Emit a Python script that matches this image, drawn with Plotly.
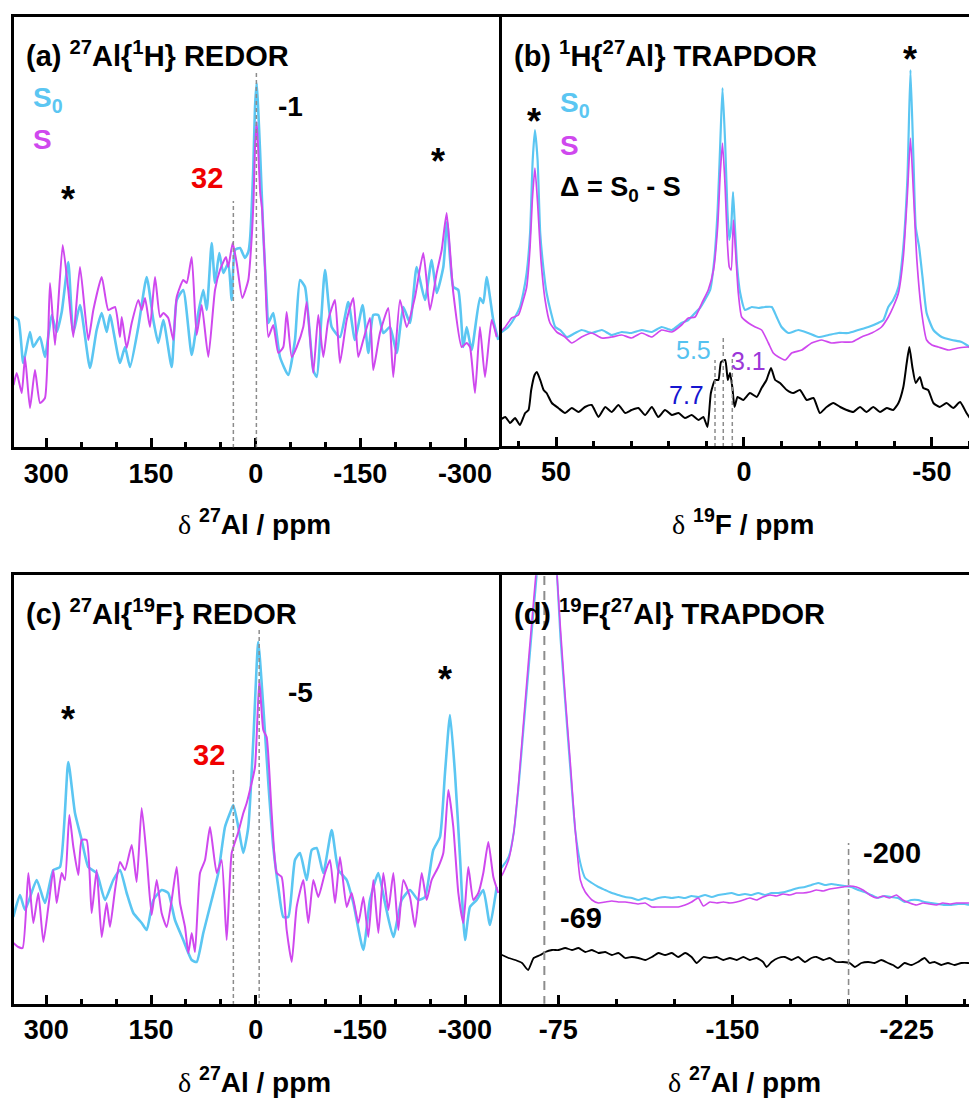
import plotly.graph_objects as go

OFF = 8            # default page body margin of the html page
W, H = 977 - OFF, 1100 - OFF
CYAN = "#5BC6F2"
MAG = "#CF48EE"
FONT = "Liberation Sans, Arial, sans-serif"

# ---------------- panel (a) 27Al{1H} REDOR ----------------
a_s0_ppm = [347, 340, 333.1, 323.5, 318.7, 309.1, 302, 292.4, 285.2, 278, 268.6, 261.4, 251.8, 237.5, 227.9,
            220.7, 213.5, 208.8, 194.5, 187.3, 180.1, 168.2, 156.2, 146.7, 139.6, 132.4, 120.4, 113.2, 103.8,
            91.7, 82.3, 75.1, 70.2, 63.1, 58.3, 52.2, 46.4, 39.3, 34.4, 29.7, 22.5, 15.3, 10.6, 8.2, 3.4, 1.0,
            -1.4, -3.5, -6.2, -10.9, -15.8, -18.1, -25.2, -34.8, -46.7, -56.3, -63.5, -70.7, -82.5, -87.4,
            -99.3, -108.9, -120.8, -132.7, -142.3, -153.3, -161.4, -168.5, -175.7, -182.9, -192.5, -202.1,
            -211.5, -221.1, -230.7, -242.6, -252.2, -259.4, -268.9, -274.2, -283.2, -290.3, -297.5, -302.4,
            -309.5, -321.4, -326.2, -331, -340.5, -347.7]
a_s0 = [131, 128, 85, 116, 101, 111, 91, 133, 116, 136, 186, 115, 143, 80, 118, 135, 116, 133, 85, 101, 81,
        121, 171, 128, 105, 128, 81, 148, 158, 93, 135, 158, 138, 205, 165, 195, 175, 185, 148, 198, 200, 190,
        196, 208, 281, 340, 365, 340, 298, 215, 148, 125, 135, 91, 73, 108, 168, 161, 78, 71, 178, 121, 111,
        146, 108, 143, 95, 133, 133, 115, 121, 95, 141, 125, 181, 148, 188, 155, 181, 226, 161, 158, 101, 121,
        98, 150, 145, 171, 128, 108]
a_s_ppm = [347, 342.5, 335.3, 330.6, 323.5, 316.3, 309.1, 302, 294.8, 287.6, 276.6, 268.6, 261.4, 251.8, 239.9,
           232.7, 220.7, 211.2, 201.6, 194.5, 192, 184.9, 177.7, 168.2, 163.4, 158.6, 151.5, 144.3, 137.1, 132.4,
           125.3, 118.1, 113.2, 103.8, 98.9, 91.7, 84.6, 77.4, 67.9, 58.3, 51.2, 42.6, 39.3, 33, 27.2, 19.2,
           10.6, 5.3, 3.0, 1.0, -1.4, -3.5, -6.5, -9.0, -13.3, -18.1, -25.2, -32.4, -39.6, -44.4, -51.6, -58.8,
           -68.2, -73.1, -82.5, -89.7, -96.9, -104, -113.6, -120.8, -130.4, -139.9, -147, -154.2, -163.8,
           -168.5, -178.1, -190, -197.2, -206.8, -216.4, -228.3, -240.2, -249.8, -259.4, -266.6, -273.7,
           -283.2, -295.2, -302.4, -307.1, -314.3, -321.4, -328.6, -338.2, -345.4]
a_s = [63, 75, 55, 91, 40, 78, 45, 50, 165, 103, 203, 158, 111, 181, 108, 138, 171, 138, 141, 111, 131, 100,
       125, 148, 138, 150, 121, 171, 131, 135, 130, 108, 151, 168, 165, 191, 113, 143, 91, 158, 178, 191, 181,
       205, 185, 150, 168, 215, 250, 300, 326, 300, 255, 240, 181, 111, 123, 95, 101, 136, 91, 101, 121, 146,
       75, 133, 91, 128, 148, 85, 128, 150, 91, 108, 130, 78, 115, 140, 71, 148, 121, 151, 195, 138, 175, 198,
       235, 155, 101, 105, 101, 55, 121, 71, 128, 111]

# ---------------- panel (b) 1H{27Al} TRAPDOR ----------------
b_s0_ppm = [66.2, 62.7, 60.9, 59.6, 58.7, 57.8, 56.9, 56.2, 55.6, 54.9, 54.2, 53.3, 52.5, 51.3, 50.2, 48.9,
            47.1, 44.9, 43.2, 40.5, 37.8, 35.2, 32.5, 29.9, 27.2, 24.5, 21.9, 19.2, 16.6, 14.8, 13, 11.7, 10.4,
            9, 7.9, 7, 6.3, 5.7, 5, 4.4, 3.9, 3.4, 2.9, 2.4, 1.8, 1, -0.3, -2.1, -3.8, -5.6, -7.4, -8.7, -10.0,
            -11.8, -14.5, -17.1, -19.8, -22.5, -25.1, -27.8, -30.4, -33.1, -35.7, -37.1, -38.4, -39.7, -41.1,
            -42.4, -43.5, -44.3, -45.1, -45.7, -46.6, -47.5, -48.6, -50.4, -52.6, -55.3, -57.9, -60.1, -61.5]
b_s0 = [110, 120, 130, 140, 154, 174, 214, 287, 317, 287, 214, 177, 154, 134, 120, 117, 110, 114, 117, 114,
        117, 112, 115, 114, 117, 115, 120, 117, 124, 127, 134, 139, 147, 157, 187, 237, 304, 359, 304, 237,
        207, 220, 255, 220, 180, 154, 137, 140, 139, 140, 140, 130, 120, 114, 117, 114, 110, 112, 114, 114,
        117, 120, 124, 127, 140, 147, 160, 200, 270, 377, 287, 220, 200, 170, 134, 117, 110, 107, 105, 100, 97]
b_s_ppm = [66.2, 63.5, 61.8, 60, 58.7, 57.8, 56.9, 56.3, 55.6, 54.9, 54, 52.9, 51.6, 49.8, 47.6, 45.8, 43.2,
           40.5, 37.8, 35.2, 32.5, 29.9, 27.2, 24.5, 21.9, 19.2, 16.6, 14.8, 13, 11.2, 9.5, 8.1, 7, 6.3, 5.7,
           5, 4.4, 3.9, 3.4, 2.8, 2.2, 1.5, 0.6, -1.2, -3, -4.7, -6.5, -7.8, -9.2, -11, -12.7, -15.4, -18,
           -20.7, -23.3, -26, -28.7, -31.3, -34, -36.6, -38.4, -39.7, -41.1, -42.4, -43.5, -44.3, -45.1, -46,
           -47.3, -48.6, -50, -51.7, -54.4, -57, -59.7, -61.5]
b_s = [110, 120, 129, 132, 147, 160, 200, 247, 279, 244, 187, 147, 124, 115, 110, 104, 110, 114, 109, 110,
       112, 109, 114, 110, 117, 115, 122, 129, 130, 144, 157, 177, 220, 274, 304, 260, 204, 180, 177, 227, 194,
       154, 130, 124, 120, 117, 104, 94, 90, 87, 94, 97, 104, 107, 104, 105, 105, 110, 114, 120, 130, 140, 154,
       190, 254, 309, 254, 187, 134, 107, 102, 100, 97, 99, 100, 99]
b_d_ppm = [64.9, 63.5, 62.2, 60.9, 59.6, 58.2, 57.3, 56.6, 55.7, 55.1, 54.2, 53.3, 52.5, 51.1, 49.4, 47.6,
           45.8, 44, 42.3, 40.5, 38.7, 36.9, 35.2, 33.4, 31.6, 29.9, 28.1, 26.3, 24.5, 22.8, 21, 19.2, 17.4,
           15.7, 13.9, 12.1, 10.8, 9.7, 8.8, 7.7, 6.8, 6.1, 5, 4.3, 3.7, 3.1, 2.5, 1.7, 0.2, -1.6, -3.4, -4.7,
           -6, -7.2, -8.3, -9.6, -11.4, -13.1, -14.9, -16.7, -18.5, -20.2, -22, -23.8, -25.6, -27.3, -29.1,
           -30.9, -32.6, -34.4, -36.2, -38, -39.7, -41.1, -42.4, -43.3, -44, -44.8, -45.7, -46.8, -47.7, -49,
           -50.4, -52.1, -53.9, -55.7, -57.5, -59.2, -60.6, -61.9]
b_d = [27, 30, 24, 29, 22, 34, 37, 57, 72, 75, 67, 57, 54, 44, 39, 34, 39, 35, 40, 42, 30, 40, 35, 42, 34,
       37, 39, 32, 40, 30, 37, 32, 34, 29, 32, 27, 30, 20, 54, 67, 67, 85, 87, 67, 74, 60, 40, 50, 47, 54, 50,
       59, 67, 79, 67, 64, 57, 54, 57, 47, 49, 34, 40, 44, 40, 37, 35, 40, 35, 40, 35, 39, 37, 44, 60, 84, 100,
       80, 64, 70, 59, 57, 44, 40, 44, 39, 45, 34, 27, 34]

# ---------------- panel (c) 27Al{19F} REDOR ----------------
c_s0_ppm = [347.4, 337.8, 330.6, 313.9, 302, 290.1, 280.5, 268.6, 259, 249.4, 239.9, 227.9, 216, 204.1, 194.5,
            184.9, 175.4, 163.4, 156.2, 146.7, 134.7, 125.3, 115.7, 103.8, 91.7, 84.6, 75.1, 63.1, 53.6, 44,
            36.8, 32.1, 24.9, 17.8, 10.6, 3.4, -3.7, -10.9, -18.1, -25.2, -32.4, -39.6, -46.7, -56.3, -63.5,
            -73.1, -80.3, -87.4, -96.9, -108.9, -118.4, -130.4, -139.9, -154.2, -163.8, -175.7, -185.3, -197.2,
            -209.2, -221.1, -233, -242.6, -254.5, -264.1, -271.3, -278.5, -285.6, -292.8, -300, -307.1, -316.7,
            -326.2, -335.8, -345.4]
c_s0 = [88, 110, 95, 125, 102, 135, 138, 243, 192, 165, 138, 132, 105, 125, 135, 112, 92, 82, 75, 105, 115,
        112, 85, 65, 45, 43, 72, 105, 132, 178, 192, 200, 178, 152, 178, 265, 363, 298, 222, 158, 118, 88, 88,
        145, 152, 125, 155, 157, 132, 175, 135, 125, 102, 55, 105, 132, 102, 68, 105, 115, 105, 108, 155, 168,
        232, 290, 232, 148, 65, 98, 105, 115, 80, 118]
c_s_ppm = [347.3, 340.2, 334, 325.8, 318.7, 311.5, 304.3, 297.2, 290, 285.2, 278.1, 273.3, 267.1, 261.3, 254.2,
           249.4, 242.2, 235.1, 227.9, 220.7, 213.6, 208.8, 201.6, 194.5, 187.3, 177.7, 170.6, 163.4, 156.2,
           149.1, 141.9, 134.8, 127.6, 120.4, 113.3, 108.5, 101.3, 96.5, 91.7, 87, 79.8, 72.6, 65.5, 55.9,
           48.8, 41.6, 34.4, 24.9, 17.7, 12.9, 8.2, 1, -5.2, -10.9, -15.7, -22.9, -30.1, -37.2, -44.4, -51.6,
           -58.7, -68.3, -75.4, -82.6, -89.8, -99.3, -106.5, -113.7, -120.8, -130.4, -137.5, -147.1, -154.3,
           -161.4, -168.6, -175.8, -182.9, -190.1, -197.3, -204.4, -211.6, -221.1, -228.3, -237.9, -245,
           -252.2, -261.7, -268.9, -276.1, -283.2, -290.4, -297.6, -304.7, -311.9, -319.1, -326.2, -333.4,
           -340.6, -347.7]
c_s = [62, 58, 57, 132, 82, 112, 63, 98, 135, 102, 132, 125, 190, 158, 130, 165, 165, 92, 135, 68, 102, 78,
       115, 143, 135, 160, 123, 197, 148, 90, 125, 92, 78, 105, 138, 102, 78, 52, 72, 53, 132, 145, 178, 132,
       145, 65, 152, 173, 192, 202, 215, 238, 325, 275, 268, 192, 132, 128, 75, 43, 98, 125, 82, 125, 108, 132,
       145, 102, 148, 98, 112, 82, 108, 68, 125, 72, 132, 95, 132, 75, 125, 108, 78, 132, 105, 125, 138, 152,
       215, 178, 112, 82, 138, 105, 112, 132, 163, 128, 112]

# ---------------- panel (d) 19F{27Al} TRAPDOR ----------------
d_s0_ppm = [-47.9, -50.8, -53.6, -55.8, -57.9, -60.1, -62.2, -64.4, -65.8, -70.1, -74.4, -75.9, -78, -80.2,
            -82.3, -84.5, -86.6, -89.5, -92.3, -95.2, -98.1, -100.9, -103.8, -106.7, -109.5, -112.4, -115.3,
            -118.1, -121, -123.9, -126.7, -129.6, -132.4, -135.3, -138.2, -141.1, -143.9, -146.8, -149.6,
            -152.5, -155.4, -158.2, -161.1, -164, -166.8, -169.7, -172.6, -175.4, -178.3, -181.2, -184, -186.9,
            -189.8, -192.6, -195.5, -198.4, -201.2, -204.1, -206.9, -209.8, -212.7, -215.5, -218.4, -221.3,
            -224.1, -227, -229.9, -232.7, -235.6, -238.5, -241.3, -244.2, -247.1, -249.9, -252.8, -255.1]
d_s0 = [132, 138, 148, 172, 218, 278, 335, 395, 432, 560, 432, 368, 302, 235, 175, 142, 127, 122, 118, 115,
        112, 110, 108, 107, 105, 107, 105, 107, 108, 107, 108, 107, 109, 108, 110, 108, 110, 111, 112, 110,
        111, 110, 112, 110, 112, 112, 113, 115, 117, 118, 120, 122, 120, 121, 120, 119, 118, 115, 113, 110,
        107, 109, 108, 107, 103, 105, 105, 103, 102, 101, 100, 100, 101, 101, 100, 102]
d_s_ppm = [-47.9, -50.8, -53.6, -55.8, -57.9, -60.1, -62.2, -64.4, -65.4, -70.1, -74.4, -75.9, -78, -80.2,
           -82.3, -84.5, -86.6, -89.5, -92.3, -95.2, -98.1, -100.9, -103.8, -106.7, -109.5, -112.4, -115.3,
           -118.1, -121, -123.9, -126.7, -129.6, -132.4, -135.3, -137.5, -140.3, -143.2, -146.1, -148.9, -151.8,
           -154.7, -157.5, -160.4, -163.2, -166.1, -169, -171.8, -174.7, -177.6, -180.4, -183.3, -186.2, -189.1,
           -191.9, -194.8, -197.6, -200.5, -203.4, -206.2, -209.1, -212, -214.8, -217.7, -220.6, -223.4, -226.3,
           -229.2, -232, -234.9, -237.8, -240.6, -243.5, -246.3, -249.2, -252.1, -255.1]
d_s = [122, 130, 145, 172, 222, 285, 345, 405, 432, 565, 432, 378, 308, 242, 175, 125, 113, 105, 102, 103, 104,
       103, 103, 102, 101, 102, 98, 98, 98, 98, 98, 100, 103, 107, 99, 103, 102, 103, 102, 103, 105, 107, 105,
       108, 110, 109, 111, 110, 112, 112, 113, 115, 114, 116, 117, 118, 119, 118, 115, 110, 107, 109, 107, 110,
       105, 102, 100, 102, 101, 100, 102, 101, 102, 102, 102, 103]
d_d_ppm = [-47.9, -50.8, -53.6, -56.5, -59.4, -62, -64.4, -67.3, -69.4, -72.3, -75.1, -78, -80.9, -83.7, -86.6,
           -89.5, -92.3, -95.2, -98.1, -100.9, -103.8, -106.7, -109.5, -112.4, -115.3, -118.1, -121, -123.9,
           -126.7, -129.6, -132.4, -134.6, -137.5, -140.3, -143.2, -146.1, -148.9, -151.8, -154.7, -157.5,
           -160.4, -163.2, -164.7, -166.8, -169.7, -172.6, -175.4, -178.3, -181.2, -184, -186.2, -189.1, -191.9,
           -194.8, -197.6, -200.5, -202.7, -205.5, -208.4, -211.2, -214.1, -217, -219.1, -221.3, -224.1, -227,
           -229.9, -232.7, -234.9, -237, -239.9, -242.8, -245.6, -248.5, -251.4, -254.9]
d_d = [52, 50, 47, 45, 42, 35, 47, 50, 53, 55, 55, 57, 55, 57, 53, 55, 52, 53, 50, 52, 47, 48, 47, 45, 48, 52,
       50, 52, 48, 52, 48, 42, 48, 47, 48, 45, 47, 45, 48, 45, 47, 43, 38, 43, 47, 48, 45, 48, 43, 47, 48, 45,
       47, 43, 43, 42, 38, 42, 43, 42, 45, 42, 40, 37, 42, 40, 43, 47, 42, 43, 40, 42, 40, 42, 42, 40]

# ---------------- tick labels ----------------
al_ticks = [300, 150, 0, -150, -300]
al_minor = [350, 250, 200, 100, 50, -50, -100, -200, -250, -350]
f_ticks = [50, 0, -50]
f_minor = [60, 40, 30, 20, 10, -10, -20, -30, -40, -60]
d_ticks = [-75, -150, -225]
d_minor = [-50, -100, -125, -175, -200, -250]


def px(x):
    return (x - OFF) / W


def py(y):
    return 1 - (y - OFF) / H


def xaxis(dom, rng, ticks, minor, anchor):
    return dict(domain=dom, range=rng, anchor=anchor, showline=True, linewidth=3, linecolor="black",
                mirror=True, ticks="inside", ticklen=9, tickwidth=3, tickcolor="black",
                tickmode="array", tickvals=ticks, ticktext=[str(t) for t in ticks],
                tickfont=dict(family=FONT, size=27, color="black", weight="bold"),
                minor=dict(ticks="inside", ticklen=5, tickwidth=3, tickcolor="black", tickvals=minor),
                showgrid=False, zeroline=False, fixedrange=True)


def yaxis(dom, rng, anchor):
    return dict(domain=dom, range=rng, anchor=anchor, showline=True, linewidth=3, linecolor="black",
                mirror=False, showticklabels=False, ticks="", showgrid=False, zeroline=False,
                fixedrange=True)


fig = go.Figure()


def add(x, y, color, width, xa, ya):
    fig.add_trace(go.Scatter(x=x, y=y, mode="lines", line=dict(color=color, width=width, shape="spline",
                             smoothing=0.5), xaxis=xa, yaxis=ya, showlegend=False, hoverinfo="skip"))


add(a_s0_ppm, a_s0, CYAN, 2.6, "x", "y")
add(a_s_ppm, a_s, MAG, 2.0, "x", "y")
add(b_s0_ppm, b_s0, CYAN, 2.2, "x2", "y2")
add(b_s_ppm, b_s, MAG, 1.7, "x2", "y2")
add(b_d_ppm, b_d, "black", 2.0, "x2", "y2")
add(c_s0_ppm, c_s0, CYAN, 2.6, "x3", "y3")
add(c_s_ppm, c_s, MAG, 2.0, "x3", "y3")
add(d_s0_ppm, d_s0, CYAN, 2.0, "x4", "y4")
add(d_s_ppm, d_s, MAG, 1.6, "x4", "y4")
add(d_d_ppm, d_d, "black", 1.8, "x4", "y4")

fig.update_layout(
    width=W, height=H, margin=dict(l=0, r=0, t=0, b=0), autosize=False,
    paper_bgcolor="white", plot_bgcolor="rgba(0,0,0,0)",
    xaxis=xaxis([px(13.5), px(499)], [347.1, -348.7], al_ticks, al_minor, "y"),
    yaxis=yaxis([py(447.2), py(16.8)], [0.8, 431.2], "x"),
    xaxis2=xaxis([px(501.5), 1.0], [64.5, -62.0], f_ticks, f_minor, "y2"),
    yaxis2=yaxis([py(446), py(16.8)], [1, 430.2], "x2"),
    xaxis3=xaxis([px(13.5), px(499)], [347.1, -348.7], al_ticks, al_minor, "y3"),
    yaxis3=yaxis([py(1003.8), py(575.3)], [1.2, 429.7], "x3"),
    xaxis4=xaxis([px(501.5), 1.0], [-50.55, -255.3], d_ticks, d_minor, "y4"),
    yaxis4=yaxis([py(1003.8), py(575.3)], [1.2, 429.7], "x4"),
)


# dashed guide lines (ppm, top intensity)
def vline(xa, ya, x, top, dash, width=1.5, color="#8C8C8C"):
    fig.add_shape(type="line", xref=xa, yref=ya, x0=x, x1=x, y0=0, y1=top,
                  line=dict(color=color, width=width, dash=dash))


vline("x", "y", 32, 247, "4px,3px")
vline("x", "y", -1, 378, "4px,3px")
vline("x2", "y2", 7.7, 87, "4px,3px")
vline("x2", "y2", 5.5, 110, "4px,3px")
vline("x2", "y2", 3.1, 89, "4px,3px")
vline("x3", "y3", 32, 237, "4px,3px")
vline("x3", "y3", -5, 377, "4px,3px")
vline("x4", "y4", -69, 431, "9px,6px", 2)
vline("x4", "y4", -200, 162, "6px,4px", 1.6)


def txt(x, y, s, size=28, color="black", anchor="center", weight="bold"):
    fig.add_annotation(x=px(x), y=py(y), xref="paper", yref="paper", showarrow=False,
                       text=s, xanchor=anchor, yanchor="middle",
                       font=dict(family=FONT, size=size, color=color, weight=weight))


# panel titles
txt(24, 54, "(a) <sup>27</sup>Al{<sup>1</sup>H} REDOR", size=29, anchor="left")
txt(512, 54, "(b) <sup>1</sup>H{<sup>27</sup>Al} TRAPDOR", size=29, anchor="left")
txt(24, 612, "(c) <sup>27</sup>Al{<sup>19</sup>F} REDOR", size=29, anchor="left")
txt(512, 612, "(d) <sup>19</sup>F{<sup>27</sup>Al} TRAPDOR", size=29, anchor="left")

# legends
txt(31, 99, "S<sub>0</sub>", color=CYAN, anchor="left")
txt(31, 139, "S", color=MAG, anchor="left")
txt(558, 104, "S<sub>0</sub>", color=CYAN, anchor="left")
txt(558, 145, "S", color=MAG, anchor="left")
txt(558, 189, "Δ = S<sub>0</sub> - S", size=27, anchor="left")

# peak labels
txt(207, 178, "32", size=29, color="#F00000")
txt(290, 106, "-1", size=28)
txt(209, 755, "32", size=29, color="#F00000")
txt(300, 692, "-5", size=28)
txt(892, 853, "-200", size=29)
txt(581, 918, "-69", size=29)
txt(693, 350, "5.5", size=25, color="#55C2F0", weight="normal")
txt(748, 361, "3.1", size=25, color="#9B36D8", weight="normal")
txt(686, 395, "7.7", size=25, color="#1515D0", weight="normal")

# spinning sideband asterisks
for (x, y) in [(68, 190), (438, 153), (534, 113), (910, 50), (68, 710), (445, 670)]:
    txt(x, y + 9, "*", size=36)

# axis titles
delta = '<span style="font-family:Liberation Serif;font-weight:normal">δ</span>'
txt(255, 522, delta + " <sup>27</sup>Al / ppm", size=28)
txt(743, 522, delta + " <sup>19</sup>F / ppm", size=28)
txt(255, 1080, delta + " <sup>27</sup>Al / ppm", size=28)
txt(744, 1080, delta + " <sup>27</sup>Al / ppm", size=28)

fig.write_html("out.html")
